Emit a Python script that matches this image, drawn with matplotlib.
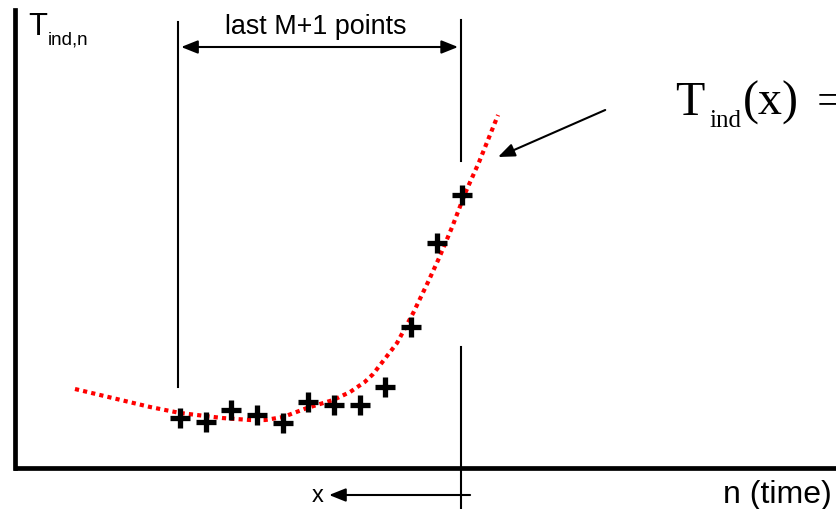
import numpy as np
from matplotlib import pyplot as plt

# 測定点 (last M+1 points), n = 0..11
n_points = np.arange(12)
T_points = [5.0, 4.6, 5.8, 5.3, 4.5, 6.6, 6.3, 6.3, 8.1, 14.1, 22.5, 27.3]

# 赤の点線 (fitted T_ind(x))
n_curve = [-4.10, -1.17, 0.0, 1.64, 2.73, 3.32, 4.02, 4.95, 5.97, 6.63, 7.20, 7.53,
           7.80, 8.46, 9.09, 9.67, 10.10, 10.61, 11.12, 11.66, 12.40]
T_curve = [7.9, 6.1, 5.5, 5.0, 4.8, 4.8, 5.1, 6.0, 6.8, 7.6, 8.6, 9.4,
           10.3, 12.5, 15.5, 18.6, 21.0, 24.1, 27.5, 30.6, 35.3]

W, H = 837, 509
fig = plt.figure(figsize=(W / 100, H / 100), dpi=100)
# 左の軸線 x=15.5px, 下の軸線 y=468px
ax = fig.add_axes([15.5 / W, (H - 468) / H, 1 - 15.5 / W, (468 - 10) / H])
ax.set_xlim(-6.42, 25.62)
ax.set_ylim(0, 45.8)
for s in ["top", "right"]:
    ax.spines[s].set_visible(False)
for s in ["left", "bottom"]:
    ax.spines[s].set_linewidth(3.4)
    ax.spines[s].set_color("black")
ax.set_xticks([])
ax.set_yticks([])

sans = "Liberation Sans"
serif = "Liberation Serif"

# curve
ax.plot(n_curve, T_curve, color="#ff0000", lw=3.0, linestyle=(0, (1, 1)),
        dash_capstyle="butt", clip_on=False, zorder=2)
# points
ax.plot(n_points, T_points, linestyle="none", marker="+", ms=14, mew=3.8,
        color="black", clip_on=False, zorder=3)

# 縦線
ax.plot([-0.08, -0.08], [44.6, 8.1], color="black", lw=1.5, clip_on=False)
ax.plot([10.96, 10.96], [44.8, 30.7], color="black", lw=1.5, clip_on=False)
ax.plot([10.96, 10.96], [12.1, -4.0], color="black", lw=1.5, clip_on=False)

arrow_kw = dict(color="black", lw=1.5, shrinkA=0, shrinkB=0, mutation_scale=10)
# last M+1 points の両矢印
ax.annotate("", xy=(0.04, 42.1), xytext=(10.84, 42.1),
            arrowprops=dict(arrowstyle="<|-|>,head_length=1.0,head_width=0.4", **arrow_kw),
            annotation_clip=False)
ax.text(5.30, 43.4, "last M+1 points", fontsize=19.4, family=sans,
        ha="center", va="baseline")

# x の矢印
ax.annotate("", xy=(5.81, -2.7), xytext=(11.31, -2.7),
            arrowprops=dict(arrowstyle="-|>,head_length=1.0,head_width=0.4", **arrow_kw),
            annotation_clip=False)
ax.text(5.15, -3.4, "x", fontsize=17, family=sans, ha="left", va="baseline",
        clip_on=False)

# T_ind(x) への矢印
ax.annotate("", xy=(12.40, 31.1), xytext=(16.58, 35.8),
            arrowprops=dict(arrowstyle="-|>,head_length=1.0,head_width=0.4", **arrow_kw),
            annotation_clip=False)

# ラベル
ax.text(-5.93, 43.3, "T", fontsize=22.3, family=sans, ha="left", va="baseline")
ax.text(-5.15, 42.3, "ind,n", fontsize=13.5, family=sans, ha="left", va="baseline")

ax.text(19.31, 35.3, "T", fontsize=34.6, family=serif, ha="left", va="baseline")
ax.text(20.63, 34.1, "ind", fontsize=18, family=serif, ha="left", va="baseline")
ax.text(21.96, 35.3, "(x)", fontsize=34.6, family=serif, ha="left", va="baseline")
ax.text(24.84, 35.3, "=", fontsize=34.6, family=serif, ha="left", va="baseline")

ax.text(21.18, -3.5, "n (time)", fontsize=23, family=sans, ha="left", va="baseline")

out_path = "out.png"
fig.savefig(out_path, dpi=100)
print(f"Saved figure: {out_path}")
plt.close()
